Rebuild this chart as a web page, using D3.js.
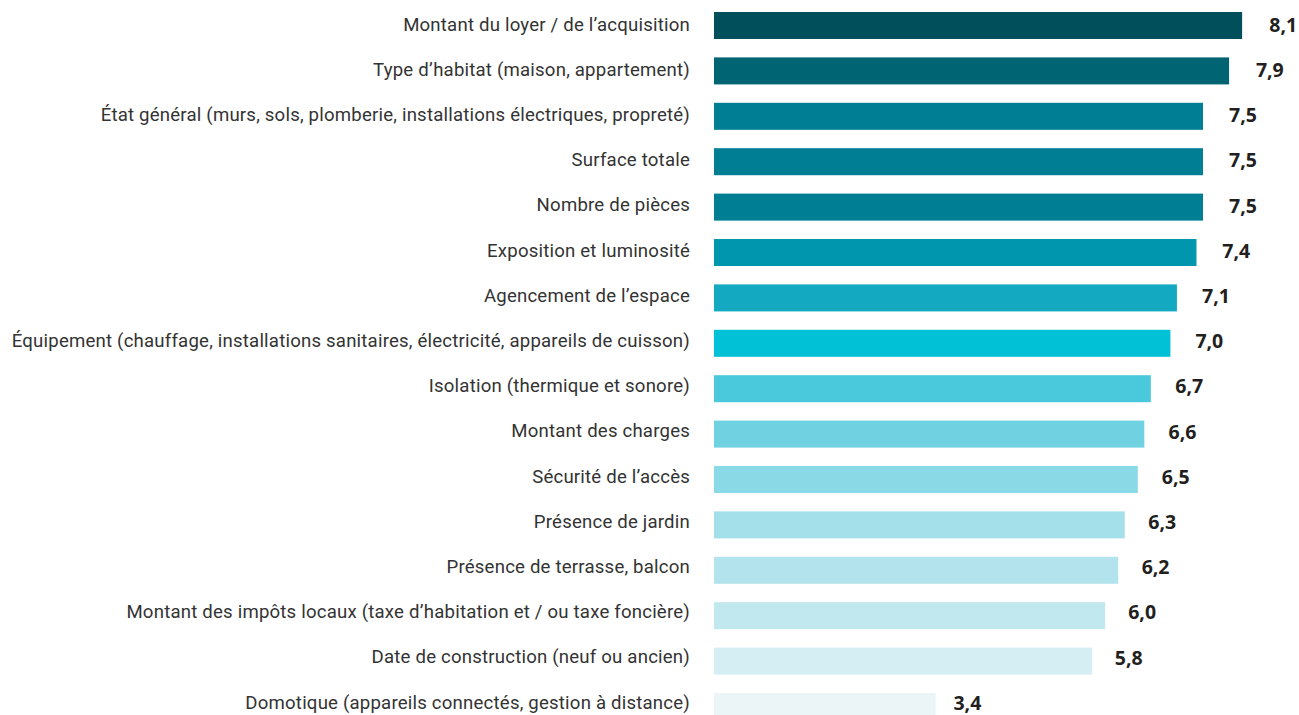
<html>
  <head>
    <meta charset="UTF-8">
    <style>
      body { margin: 0; background: #fff; }
    </style>
  </head>
  <body>
    <script src="https://d3js.org/d3.v7.min.js"></script>
    <script>

var width = 1299;
var height = 715;

// data
var categories = [
  "Montant du loyer / de l\u2019acquisition",
  "Type d\u2019habitat (maison, appartement)",
  "\u00c9tat g\u00e9n\u00e9ral (murs, sols, plomberie, installations \u00e9lectriques, propret\u00e9)",
  "Surface totale",
  "Nombre de pi\u00e8ces",
  "Exposition et luminosit\u00e9",
  "Agencement de l\u2019espace",
  "\u00c9quipement (chauffage, installations sanitaires, \u00e9lectricit\u00e9, appareils de cuisson)",
  "Isolation (thermique et sonore)",
  "Montant des charges",
  "S\u00e9curit\u00e9 de l\u2019acc\u00e8s",
  "Pr\u00e9sence de jardin",
  "Pr\u00e9sence de terrasse, balcon",
  "Montant des imp\u00f4ts locaux (taxe d\u2019habitation et / ou taxe fonci\u00e8re)",
  "Date de construction (neuf ou ancien)",
  "Domotique (appareils connect\u00e9s, gestion \u00e0 distance)"
];
var values = [8.1, 7.9, 7.5, 7.5, 7.5, 7.4, 7.1, 7.0, 6.7, 6.6, 6.5, 6.3, 6.2, 6.0, 5.8, 3.4];
var colors = ["#024f5c", "#006472", "#007f94", "#007f94", "#007f94", "#0096ad", "#13a9c0", "#00c1d6",
              "#4ac9dd", "#70d1e0", "#8ad9e6", "#a3e0ea", "#b3e4ed", "#c0e8ee", "#d5eef3", "#ebf5f8"];

var svg = d3.select("body").append("svg")
    .attr("width", width).attr("height", height);

var x = d3.scaleLinear().domain([0, 10]).range([714, 714 + 652]);
// value labels sit slightly further out as bars get longer
var xl = d3.scaleLinear().domain([0, 10]).range([725, 725 + 672]);

var y = d3.scaleBand()
    .domain(categories)
    .range([12, 720])
    .paddingInner(0.405)
    .paddingOuter(0);

// text rows are a touch above the bar centres
var yt = d3.scalePoint()
    .domain(categories)
    .range([24, 24 + 15 * 45.2]);

var rows = svg.selectAll(".row")
    .data(categories)
    .enter().append("g")
    .attr("class", "row");

rows.append("rect")
    .attr("x", x(0))
    .attr("y", function(d) { return y(d); })
    .attr("width", function(d, i) { return x(values[i]) - x(0); })
    .attr("height", y.bandwidth())
    .style("fill", function(d, i) { return colors[i]; });

rows.append("text")
    .attr("x", 690)
    .attr("y", function(d) { return yt(d); })
    .attr("dy", "0.35em")
    .attr("text-anchor", "end")
    .style("font-family", "Roboto, sans-serif")
    .style("font-size", "18.6px")
    .style("letter-spacing", "0.2px")
    .style("fill", "#333333")
    .text(function(d) { return d; });

rows.append("text")
    .attr("x", function(d, i) { return xl(values[i]); })
    .attr("y", function(d) { return yt(d) + 1; })
    .attr("dy", "0.35em")
    .style("font-family", "'Open Sans', sans-serif")
    .style("font-weight", "bold")
    .style("font-size", "19.5px")
    .style("fill", "#231f20")
    .text(function(d, i) { return d3.format(".1f")(values[i]).replace(".", ","); });

    </script>
  </body>
</html>
